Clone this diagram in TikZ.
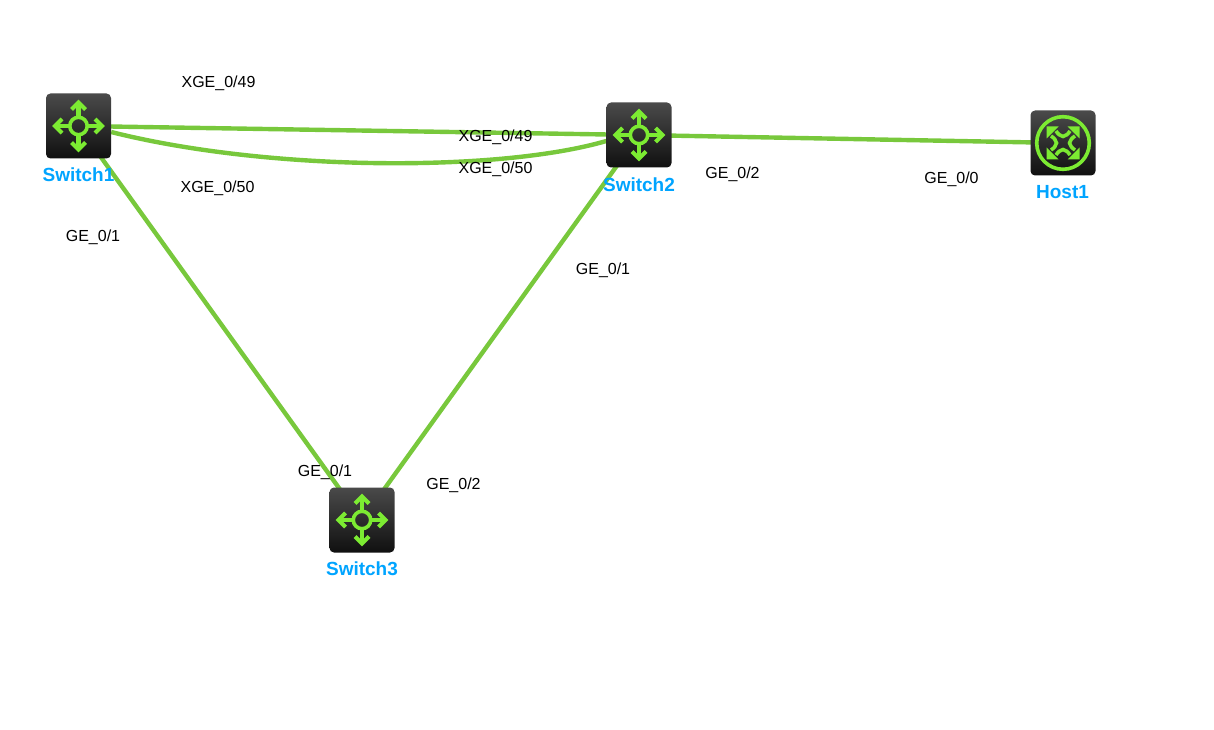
\documentclass[tikz,border=0pt]{standalone}
\usepackage{fontspec}
\setmainfont{Liberation Sans}
\usetikzlibrary{backgrounds}
\definecolor{linkgreen}{HTML}{78C83C}
\definecolor{icongreen}{HTML}{7CEB32}
\definecolor{namecyan}{HTML}{00A4FF}
\definecolor{boxtop}{HTML}{4A4A4A}
\definecolor{boxbot}{HTML}{101010}
\tikzset{
  x=1pt,y=-1pt,
  device/.style={rectangle,minimum width=65pt,minimum height=65pt,inner sep=0pt,
    rounded corners=4.5pt,top color=boxtop,bottom color=boxbot,draw=none},
  link/.style={draw=linkgreen,line width=4.4pt},
  port/.style={font=\fontsize{16}{18}\selectfont,text=black,inner sep=0pt},
  devname/.style={font=\fontsize{19}{21}\selectfont\bfseries,text=namecyan,inner sep=0pt},
  glyph/.style={draw=icongreen,line width=4.2pt,fill=none,miter limit=10},
  switchicon/.pic={
    \draw[glyph,line width=3.6pt] (0,0) circle[radius=8.7];
    \foreach \a in {0,90,180,270}{
      \begin{scope}[rotate=\a]
        \draw[glyph] (9,0) -- (22,0);
        \draw[glyph,line join=miter] (16.5,-7) -- (23.5,0) -- (16.5,7);
      \end{scope}}
  },
  hosticon/.pic={
    \draw[glyph,line width=3.6pt] (0,0) circle[radius=26.3];
    \foreach \a in {0,90,180,270}{
      \begin{scope}[rotate=\a]
        \fill[icongreen] (-16.5,-16.5) -- (-4.5,-16.5) -- (-16.5,-4.5) -- cycle;
        \draw[glyph,line width=3.6pt] (-7,-12) .. controls (-5,-9) and (-3,-7) .. (0,-6.5)
           .. controls (3,-7) and (5,-9) .. (7,-12);
      \end{scope}}
  }
}
\begin{document}
\begin{tikzpicture}
\useasboundingbox (0,0) rectangle (1214,730);
\node[device] (sw1) at (78.5,126) {};
\node[device] (sw2) at (639,135) {};
\node[device] (sw3) at (362,520) {};
\node[device] (h1)  at (1063,143) {};
\pic at (sw1.center) {switchicon};
\pic at (sw2.center) {switchicon};
\pic at (sw3.center) {switchicon};
\pic at (h1.center) {hosticon};
\node[devname] (n1) at (78.5,175) {Switch1};
\node[devname] (n2) at (639,184.5) {Switch2};
\node[devname] (n3) at (362,568.5) {Switch3};
\node[devname] (n4) at (1062.5,192.5) {Host1};
\node[port] (p1) at (218.5,83) {XGE\_0/49};
\node[port] (p2) at (217.5,188) {XGE\_0/50};
\node[port] (p3) at (495.5,137) {XGE\_0/49};
\node[port] (p4) at (495.5,169) {XGE\_0/50};
\node[port] (p5) at (93,237) {GE\_0/1};
\node[port] (p6) at (603,270) {GE\_0/1};
\node[port] (p7) at (732.5,174) {GE\_0/2};
\node[port] (p8) at (951.5,179) {GE\_0/0};
\node[port] (p9) at (325,472) {GE\_0/1};
\node[port] (p10) at (453.5,485) {GE\_0/2};
\begin{scope}[on background layer]
\draw[link] (sw1.center) -- (sw2.center);
\draw[link] ([yshift=-6pt]sw1.east) .. controls (270,172) and (500,172) .. ([yshift=-6pt]sw2.west);
\draw[link] (sw2.center) -- (h1.center);
\draw[link] (sw1.center) -- (sw3.center);
\draw[link] (sw2.center) -- (sw3.center);
\end{scope}
\end{tikzpicture}
\end{document}
